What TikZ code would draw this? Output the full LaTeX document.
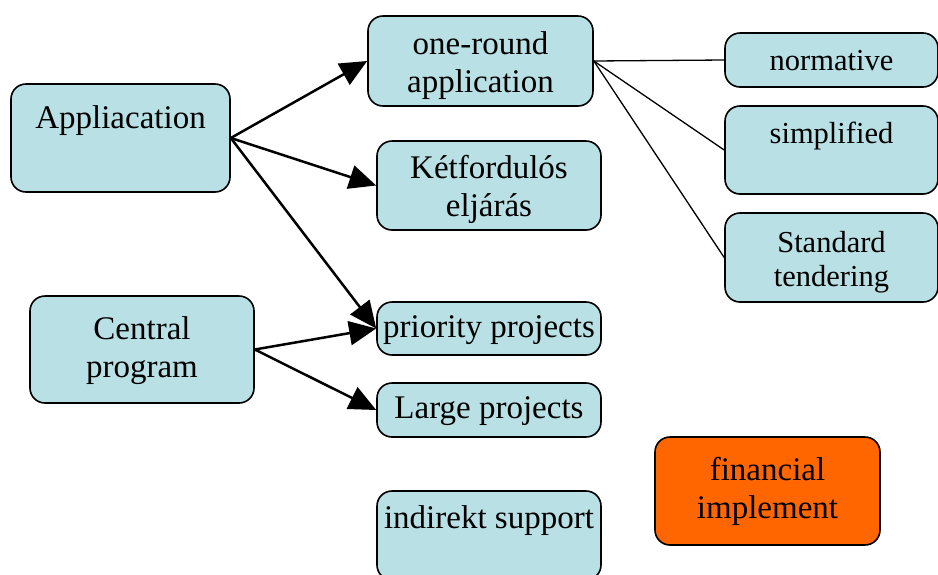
\documentclass[tikz,border=0pt]{standalone}
\usepackage{fontspec}
\setmainfont{Liberation Serif}
\usetikzlibrary{arrows.meta}
\definecolor{boxblue}{RGB}{185,224,228}
\definecolor{boxorange}{RGB}{255,102,0}
\begin{document}
\begin{tikzpicture}[x=1pt,y=-1pt,
  box/.style={draw=black, line width=1.6pt, rounded corners=15pt, fill=boxblue, inner sep=0pt},
  boxtext/.style={align=center, inner sep=0pt, font=\fontsize{33}{38}\selectfont},
  sidetext/.style={boxtext, font=\fontsize{30.5}{34}\selectfont},
  bigarrow/.style={line width=2.5pt, -{Triangle[length=27pt,width=24pt]}},
  thinlink/.style={line width=1.3pt}]
\useasboundingbox (0,0) rectangle (938,574);

% left column
\node[box, minimum width=219pt, minimum height=108pt,
  label={[boxtext, yshift=2pt]center:{Appliacation\\\mbox{}}}] (app) at (120.5,138) {};
\node[box, minimum width=224pt, minimum height=107pt,
  label={[boxtext, yshift=-1pt]center:{Central\\program}}] (central) at (142,349.5) {};

% middle column
\node[box, minimum width=225pt, minimum height=90pt,
  label={[boxtext, yshift=-4.5pt]center:{one-round\\application}}] (oneround) at (480.5,61) {};
\node[box, minimum width=224pt, minimum height=89pt,
  label={[boxtext, yshift=-4pt]center:{Kétfordulós\\eljárás}}] (ket) at (489,185.5) {};
\node[box, minimum width=224pt, minimum height=53pt,
  label={[boxtext, yshift=-1.5pt]center:{priority projects}}] (prio) at (489,328.5) {};
\node[box, minimum width=224pt, minimum height=54pt,
  label={[boxtext, yshift=-1pt]center:{Large projects}}] (large) at (489,410) {};
\node[box, minimum width=224pt, minimum height=89pt,
  label={[boxtext, yshift=-1pt]center:{indirekt support\\\mbox{}}}] (indirekt) at (489,535.5) {};

% right column
\node[box, minimum width=213pt, minimum height=54pt,
  label={[sidetext, yshift=-1pt]center:{normative}}] (normative) at (831.5,60) {};
\node[box, minimum width=213pt, minimum height=88pt,
  label={[sidetext]center:{simplified\\\mbox{}}}] (simplified) at (831.5,150) {};
\node[box, minimum width=213pt, minimum height=89pt,
  label={[sidetext, yshift=-4.5pt]center:{Standard\\tendering}}] (standard) at (831.5,257.5) {};

% financial implement
\node[box, fill=boxorange, minimum width=225pt, minimum height=108pt,
  label={[boxtext]center:{financial\\implement}}] (financial) at (767.5,491) {};

% arrows
\draw[bigarrow] (app.east) -- (oneround.west);
\draw[bigarrow] (app.east) -- (ket.west);
\draw[bigarrow] (app.east) -- (prio.west);
\draw[bigarrow] (central.east) -- (prio.west);
\draw[bigarrow] (central.east) -- (large.west);

% plain links
\draw[thinlink] (oneround.east) -- (normative.west);
\draw[thinlink] (oneround.east) -- (simplified.west);
\draw[thinlink] (oneround.east) -- (standard.west);
\end{tikzpicture}
\end{document}
